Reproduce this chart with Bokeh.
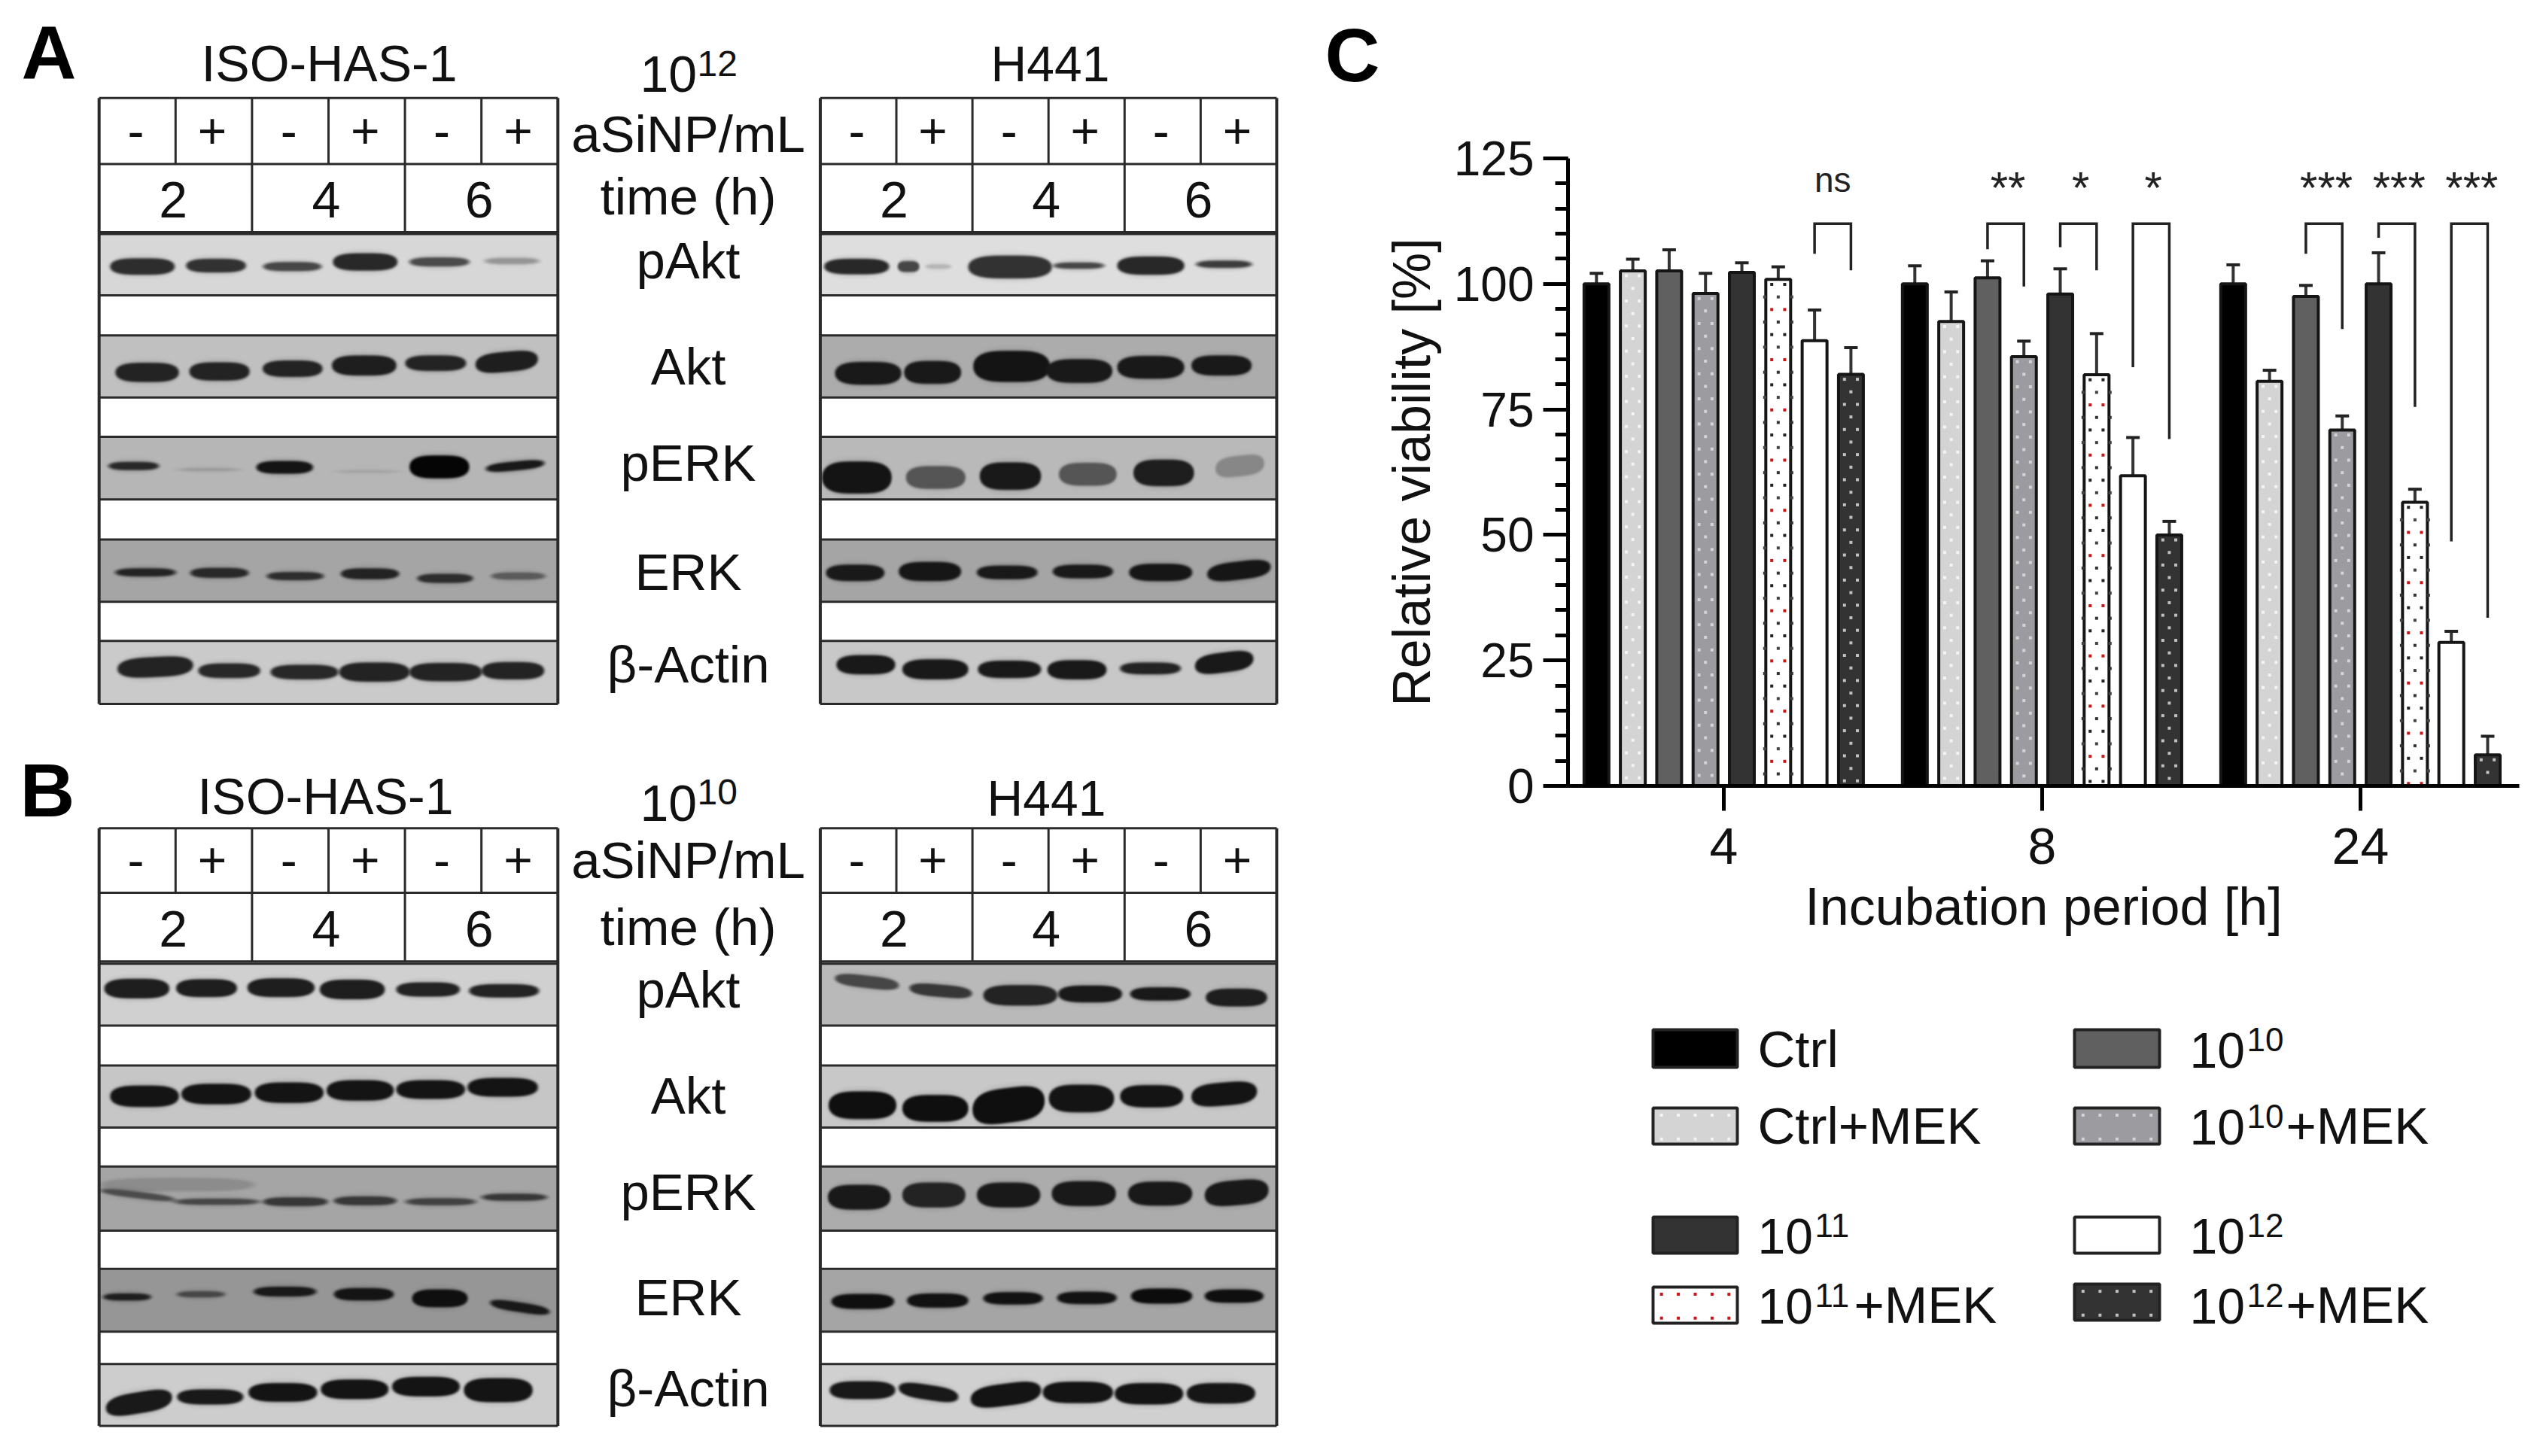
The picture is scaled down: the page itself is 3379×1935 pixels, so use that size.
import numpy as np
from bokeh.core.properties import value
from bokeh.embed import file_html
from bokeh.layouts import column, row
from bokeh.models import FixedTicker, LinearColorMapper, Range1d
from bokeh.plotting import figure
from bokeh.resources import INLINE

FONT = "Liberation Sans"
PAGE_H = 1935
PAGE_W = 3363
FIG_H = 1919
SPLIT = 1833
LEG_TOP = 1290

# ---------- panel C data ----------
GROUPS = ["4", "8", "24"]
SERIES = ["Ctrl", "Ctrl+MEK", "10^10", "10^10+MEK", "10^11", "10^11+MEK", "10^12", "10^12+MEK"]
MEAN_4H = [100, 102.6, 102.6, 98.1, 102.3, 100.9, 88.7, 82]
TOP_4H = [102.1, 104.9, 106.8, 102.1, 104.2, 103.4, 94.8, 87.3]
MEAN_8H = [100, 92.5, 101.2, 85.5, 98, 81.9, 61.8, 50]
TOP_8H = [103.6, 98.4, 104.6, 88.6, 103, 90.1, 69.4, 52.7]
MEAN_24H = [100, 80.6, 97.5, 70.9, 100, 56.5, 28.6, 6.2]
TOP_24H = [103.8, 82.8, 99.7, 73.7, 106.2, 59.1, 30.8, 9.9]
FILLS = ["#000000", "#d4d4d4", "#606060", "#9c9ca0", "#333333", "#ffffff", "#ffffff", "#333333"]
DOTS = [None, "#f4f4f4", None, "#d4d4d8", None, "mix", None, "#c0c0c0"]
# group, left bar, right bar, left foot, right foot, label
BRACKETS = [
    (0, 6, 7, 106, 102.7, "ns"),
    (1, 2, 3, 106.9, 99.5, "**"),
    (1, 4, 5, 107.3, 102.7, "*"),
    (1, 6, 7, 83.4, 69.1, "*"),
    (2, 2, 3, 106, 91, "***"),
    (2, 4, 5, 109.2, 75.5, "***"),
    (2, 6, 7, 48.7, 33.5, "***"),
]
BRACKET_TOP = 112
LEGEND_ROWS = [
    ("Ctrl", "", ""), ("Ctrl+MEK", "", ""), ("10", "11", ""), ("10", "11", "+MEK"),
    ("10", "10", ""), ("10", "10", "+MEK"), ("10", "12", ""), ("10", "12", "+MEK"),
]
LEGEND_SERIES = [0, 1, 4, 5, 2, 3, 6, 7]

# ---------- blot data: (x start, x end, y centre, thickness, darkest grey, tilt) ----------
A_ISO_BANDS = [
    [(208,330,577,36,45,0),(352,465,575,30,50,0),(498,608,577,20,70,0),(630,752,567,38,40,0),(775,888,567,20,75,0),(918,1020,565,14,150,0)],
    [(218,338,808,42,35,0),(358,472,806,40,35,0),(497,610,800,36,35,0),(628,750,793,44,30,0),(767,882,788,34,35,0),(900,1018,785,44,30,-6)],
    [(205,300,1010,18,40,0),(340,450,1018,6,150,0),(485,592,1013,28,20,0),(640,750,1022,5,160,0),(775,888,1012,50,5,0),(920,1030,1010,20,25,-6)],
    [(218,332,1242,18,35,0),(360,470,1243,22,40,0),(505,612,1250,18,45,0),(645,755,1245,24,35,0),(790,895,1255,20,45,0),(930,1032,1250,16,90,0)],
    [(222,365,1447,44,35,-4),(375,492,1455,32,40,0),(512,640,1458,32,40,0),(642,775,1458,42,35,0),(775,912,1458,40,35,0),(912,1030,1455,38,35,0)],
]
A_H441_BANDS = [
    [(198,378,577,34,40,0),(402,462,577,24,70,0),(480,550,577,10,180,0),(598,830,578,50,50,0),(835,975,575,14,70,0),(1012,1198,575,40,40,0),(1232,1385,572,16,60,0)],
    [(228,412,810,50,25,0),(420,578,808,50,25,0),(612,825,795,68,20,0),(815,998,805,52,25,0),(1012,1198,797,50,25,0),(1218,1385,793,44,25,0)],
    [(192,385,1035,70,20,0),(425,590,1035,50,85,0),(630,800,1032,60,25,0),(850,1010,1028,50,85,0),(1057,1225,1025,58,30,0),(1285,1420,1010,45,135,-6)],
    [(203,365,1243,36,25,0),(405,578,1240,42,22,0),(622,790,1242,30,25,0),(833,1000,1240,30,25,0),(1045,1220,1242,38,22,0),(1262,1438,1238,40,22,-8)],
    [(232,395,1442,42,25,0),(415,598,1452,44,25,0),(625,800,1452,38,25,0),(818,982,1453,42,25,0),(1020,1188,1450,26,35,0),(1228,1390,1437,44,25,-8)],
]
B_ISO_BANDS = [
    [(197,320,525,44,30,0),(333,448,524,40,30,0),(468,595,523,42,30,0),(605,728,527,44,30,0),(750,870,527,32,35,0),(888,1020,530,30,35,0)],
    [(208,338,765,48,20,0),(343,475,760,46,20,0),(482,612,757,46,20,0),(618,745,752,46,20,0),(750,880,750,42,20,0),(885,1018,745,42,20,0)],
    [(190,480,962,30,140,0),(190,330,985,15,75,10),(330,490,1000,14,70,0),(498,620,1000,20,55,0),(632,750,998,20,55,0),(768,900,1000,16,65,0),(912,1035,990,16,55,0)],
    [(195,285,1212,16,30,0),(335,425,1206,14,70,0),(480,598,1200,22,25,0),(632,745,1206,28,20,0),(780,885,1215,40,15,0),(928,1040,1235,22,25,10)],
    [(200,325,1448,48,25,-12),(335,460,1435,34,25,0),(470,600,1425,42,20,0),(607,735,1418,44,20,0),(742,870,1412,44,20,0),(878,1008,1420,54,20,0)],
]
B_H441_BANDS = [
    [(228,405,510,28,70,8),(435,608,530,28,55,6),(640,845,540,46,35,0),(848,1025,537,38,25,0),(1048,1215,537,30,25,0),(1258,1428,545,40,30,0)],
    [(210,398,785,62,15,0),(415,598,792,60,15,0),(610,810,785,78,15,-10),(822,1003,770,62,20,0),(1020,1195,765,50,20,0),(1218,1400,760,52,20,-6)],
    [(208,382,990,56,25,0),(415,590,985,56,35,0),(622,798,985,56,25,0),(830,1008,982,56,25,0),(1042,1220,982,54,25,0),(1255,1432,980,56,25,-6)],
    [(218,392,1222,34,15,0),(428,598,1220,32,18,0),(640,805,1215,28,18,0),(845,1010,1214,28,18,0),(1050,1220,1210,34,12,0),(1255,1418,1210,30,15,0)],
    [(213,395,1420,40,25,0),(405,570,1425,34,25,10),(605,800,1430,50,20,-10),(805,1000,1425,48,20,0),(1005,1195,1428,48,20,0),(1205,1395,1427,46,22,0)],
]
A_ISO_BG = [215, 192, 182, 165, 202]
A_H441_BG = [222, 172, 185, 165, 200]
B_ISO_BG = [208, 198, 165, 150, 205]
B_H441_BG = [185, 200, 172, 165, 208]
ROWS_A = [(507,640),(727,862),(947,1083),(1170,1305),(1390,1527)]
ROWS_B = [(470,608),(697,835),(922,1065),(1150,1290),(1362,1500)]
HEAD_A = (212, 355, 503)
HEAD_B = (168, 312, 465)
SIGNS = ["-", "+", "-", "+", "-", "+"]
TIMES = ["2", "4", "6"]
PROTEINS = ["pAkt", "Akt", "pERK", "ERK", "β-Actin"]


def Y(py):
    return PAGE_H - py


# ---------- left figure: blots ----------
left = figure(width=SPLIT, height=FIG_H, x_range=Range1d(0, SPLIT), y_range=Range1d(Y(FIG_H), Y(0)),
              output_backend="svg", toolbar_location=None, min_border=0,
              x_axis_type=None, y_axis_type=None, outline_line_color=None)
left.grid.visible = False
gray = LinearColorMapper(palette=["#%02x%02x%02x" % (i, i, i) for i in range(256)], low=0, high=255)


def put_text(p, x, y, s, size=69, align="center", style="normal", color="#111111"):
    p.text([x], [y + 0.346 * size], text=[s], text_font=value(FONT), text_font_size=f"{size}px",
           text_align=align, text_baseline="middle", text_font_style=style, text_color=color)


def soften(img):
    kernel = np.array([1, 2, 3, 2, 1], dtype=float) / 9
    pad = np.pad(img, 2, mode="edge")
    out = np.apply_along_axis(lambda m: np.convolve(m, kernel, mode="same"), 0, pad)
    out = np.apply_along_axis(lambda m: np.convolve(m, kernel, mode="same"), 1, out)
    return out[2:-2, 2:-2]


def blot_image(bg, bands, cal, top, bottom, l, r):
    ox, sx, oy, sy = cal
    x0, x1 = ox + l / sx, ox + r / sx
    y0, y1 = oy + top / sy, oy + bottom / sy
    w, h = int(round(x1 - x0)), int(round(y1 - y0))
    xx, yy = np.meshgrid(x0 + np.arange(w) + 0.5, y0 + np.arange(h) + 0.5)
    img = np.full((h, w), float(bg))
    for xa, xb, yc, th, g, tilt in bands:
        cx, hw = ox + (xa + xb) / 2 / sx, (xb - xa) / 2 / sx
        cy, hh = oy + yc / sy, max(th / 2 / sy, 1.6)
        dx = (xx - cx) / hw
        dy = (yy - cy - tilt / sy * dx) / hh
        rho = (np.abs(dx) ** 3.5 + np.abs(dy) ** 2.2) ** (1 / 2.2)
        a = np.clip(0.5 + (1 - rho) * hh / 2.6, 0, 1)
        a = a * a * (3 - 2 * a)
        halo = np.clip(1.25 - (np.abs(dx) ** 3 + (np.abs(yy - cy - tilt / sy * dx) / (hh + 5)) ** 2), 0, 1) * 0.14
        img = img * (1 - halo) + g * halo
        img = img * (1 - a) + g * a
    return soften(img)[::-1], x0, y1, w, h


def panel(cal, l, r, head, rows, bands, bgs):
    ox, sx, oy, sy = cal
    x0, x1 = ox + l / sx, ox + r / sx
    lane = (x1 - x0) / 6
    ya, yb, yc = [oy + v / sy for v in head]
    for (top, bottom), bd, bg in zip(rows, bands, bgs):
        img, ix, iy, w, h = blot_image(bg, bd, cal, top, bottom, l, r)
        left.image(image=[img], x=ix, y=Y(iy), dw=w, dh=h, color_mapper=gray)
    hy = [ya, yb, yc]
    for top, bottom in rows:
        hy += [oy + top / sy, oy + bottom / sy]
    xs0 = [x0] * len(hy)
    xs1 = [x1] * len(hy)
    left.segment(xs0, [Y(v) for v in hy], xs1, [Y(v) for v in hy], line_color="#2a2a2a", line_width=3)
    bottom_y = oy + rows[-1][1] / sy
    left.segment([x0, x1], [Y(ya)] * 2, [x0, x1], [Y(bottom_y)] * 2, line_color="#2a2a2a", line_width=4)
    div = [x0 + lane * i for i in range(1, 6)]
    ends = [yc if i % 2 == 0 else yb for i in range(1, 6)]
    left.segment(div, [Y(ya)] * 5, div, [Y(e) for e in ends], line_color="#2a2a2a", line_width=3)
    for i, s in enumerate(SIGNS):
        put_text(left, x0 + lane * (i + 0.5) - 2, Y(ya + 0.76 * (yb - ya)), s, size=66)
    for i, s in enumerate(TIMES):
        put_text(left, x0 + lane * (2 * i + 1) - 3, Y(yb + 0.78 * (yc - yb)), s, size=68)


CAL_A_ISO = (0, 1.4255, 0, 1.633)
CAL_A_H = (1000, 2.0907, 0, 1.633)
CAL_B_ISO = (0, 1.4255, 1000, 1.677)
CAL_B_H = (1000, 2.0907, 1000, 1.677)
panel(CAL_A_ISO, 187, 1056, HEAD_A, ROWS_A, A_ISO_BANDS, A_ISO_BG)
panel(CAL_A_H, 187, 1455, HEAD_A, ROWS_A, A_H441_BANDS, A_H441_BG)
panel(CAL_B_ISO, 187, 1056, HEAD_B, ROWS_B, B_ISO_BANDS, B_ISO_BG)
panel(CAL_B_H, 187, 1455, HEAD_B, ROWS_B, B_H441_BANDS, B_H441_BG)

put_text(left, 437, Y(107), "ISO-HAS-1", size=68)
put_text(left, 432, Y(1081), "ISO-HAS-1", size=68)
put_text(left, 1395, Y(107), "H441", size=66)
put_text(left, 1390, Y(1083), "H441", size=66)
for ys in [(202, 285, 370, 511, 639, 784, 907), (1167, 1256, 1339, 1480, 1608, 1748, 1869)]:
    labels = ["aSiNP/mL", "time (h)"] + PROTEINS
    for yy, s in zip(ys, labels):
        put_text(left, 914, Y(yy), s)
for base10, sup, sup_text in [(122, 101, "12"), (1091, 1069, "10")]:
    put_text(left, 850, Y(base10), "10", size=68, align="left")
    put_text(left, 926, Y(sup), sup_text, size=48, align="left")
# a size of exactly 100px is misread as a font weight by the SVG backend
put_text(left, 28, Y(104), "A", size=101, align="left", style="bold", color="#000000")
put_text(left, 26, Y(1084), "B", size=101, align="left", style="bold", color="#000000")
put_text(left, 1760, Y(107), "C", size=101, align="left", style="bold", color="#000000")

# ---------- right figure: bar chart ----------
Y_TOP, Y_ZERO, AX_L, AX_R = 210, 1044, 2083, 3347
right = figure(width=PAGE_W - SPLIT, height=LEG_TOP, x_range=Range1d(-0.489, 2.499), y_range=Range1d(0, 125),
               output_backend="svg", toolbar_location=None, outline_line_color=None,
               min_border_left=AX_L - SPLIT, min_border_right=PAGE_W - AX_R,
               min_border_top=Y_TOP, min_border_bottom=LEG_TOP - Y_ZERO)
right.grid.visible = False
xa, ya_ = right.xaxis[0], right.yaxis[0]
for ax in (xa, ya_):
    ax.major_label_text_font = FONT
    ax.major_label_text_color = "#111111"
    ax.axis_label_text_font = FONT
    ax.axis_label_text_font_size = "70px"
    ax.axis_label_text_font_style = "normal"
    ax.axis_label_text_color = "#111111"
    ax.axis_line_color = "#000000"
    ax.axis_line_width = 5
    ax.major_tick_line_color = "#000000"
    ax.major_tick_line_width = 5
    ax.major_tick_out = 33
    ax.major_tick_in = 0
xa.major_label_text_font_size = "68px"
ya_.major_label_text_font_size = "64px"
xa.ticker = FixedTicker(ticks=[0, 1, 2])
xa.major_label_overrides = {i: g for i, g in enumerate(GROUPS)}
xa.minor_tick_line_color = None
xa.axis_label = "Incubation period [h]"
xa.major_label_standoff = 23
xa.axis_label_standoff = 15
ya_.ticker = FixedTicker(ticks=[0, 25, 50, 75, 100, 125], minor_ticks=list(range(0, 126, 5)))
ya_.minor_tick_out = 17
ya_.minor_tick_in = 0
ya_.minor_tick_line_width = 5
ya_.minor_tick_line_color = "#000000"
ya_.axis_label = "Relative viability [%]"
ya_.major_label_standoff = 12
ya_.axis_label_standoff = 14

PITCH = 48.3 / 423
BAR_W = 33 / 423
MEANS = [MEAN_4H, MEAN_8H, MEAN_24H]
TOPS = [TOP_4H, TOP_8H, TOP_24H]


def bar_x(group, i):
    return group + (i - 3.5) * PITCH


for g, (means, tops) in enumerate(zip(MEANS, TOPS)):
    xs = [bar_x(g, i) for i in range(8)]
    right.segment(xs, means, xs, tops, line_color="#333333", line_width=4)
    right.segment([x - 9 / 423 for x in xs], tops, [x + 9 / 423 for x in xs], tops, line_color="#222222", line_width=4)
    right.vbar(x=xs, top=means, bottom=0, width=BAR_W, fill_color=FILLS, line_color="#151515", line_width=4)
    for i, (x, m) in enumerate(zip(xs, means)):
        kind = DOTS[i]
        if kind is None:
            continue
        px, py, pc = [], [], []
        for k, v in enumerate(np.arange(m - 1.0, 0.3, -2.5)):
            off = [-8.6, 8.6] if k % 2 == 0 else [0]
            if kind == "mix":
                off = off + ([-18, 18] if k % 2 else [])
                col = ["#222222", "#444444", "#cc1414", "#333333"][k % 4]
            else:
                col = kind
            for o in off:
                px.append(x + o / 423)
                py.append(float(v))
                pc.append(col)
        right.scatter(px, py, marker="square", size=4, color=pc, line_color=None)

for g, a, b, fl, fr, lab in BRACKETS:
    x0, x1 = bar_x(g, a), bar_x(g, b)
    right.line([x0, x0, x1, x1], [fl, BRACKET_TOP, BRACKET_TOP, fr], line_color="#222222", line_width=3.5, line_join="miter")
    if lab == "ns":
        right.text([(x0 + x1) / 2], [120.8], text=[lab], text_font=value(FONT), text_font_size="46px",
                   text_align="center", text_baseline="middle", text_color="#222222")
    else:
        right.text([(x0 + x1) / 2 + 3 / 423], [119.2], text=[lab], text_font=value(FONT), text_font_size="60px",
                   text_align="center", text_baseline="middle", text_color="#222222")

# ---------- legend figure (its frame lines up with the bar chart's frame) ----------
leg = figure(width=PAGE_W - SPLIT, height=FIG_H - LEG_TOP, x_range=Range1d(AX_L, AX_R),
             y_range=Range1d(Y(FIG_H), Y(LEG_TOP)),
             output_backend="svg", toolbar_location=None, min_border=0,
             x_axis_type=None, y_axis_type=None, outline_line_color=None)
leg.grid.visible = False
SW_X = [(2196, 2308), (2756, 2869)]
SW_Y = [(1368, 1418), (1472, 1520), (1617, 1665), (1710, 1758)]
TXT_X = [2335, 2909]
for n, (parts, s) in enumerate(zip(LEGEND_ROWS, LEGEND_SERIES)):
    col, r = n // 4, n % 4
    xa0, xa1 = SW_X[col]
    ya0, ya1 = SW_Y[r]
    base = Y(ya1)
    if n == 7:
        ya0, ya1 = ya0 - 4, ya1 - 4
    leg.quad(left=[xa0], right=[xa1], top=[Y(ya0)], bottom=[Y(ya1)], fill_color=FILLS[s],
             line_color="#222222", line_width=4)
    kind = DOTS[s]
    if kind:
        dx = (xa1 - xa0) / 5
        for frac in (0.2, 0.86):
            yy = Y(ya0 + (ya1 - ya0) * frac)
            col_d = "#cc1414" if kind == "mix" else kind
            leg.scatter([xa0 + dx * (k + 0.5) for k in range(5)], [yy] * 5, marker="square", size=4,
                        color=col_d, line_color=None)
    tx = TXT_X[col]
    put_text(leg, tx, base, parts[0], size=69 if parts[0] != "10" else 66, align="left")
    if parts[1]:
        put_text(leg, tx + 76, base + 22, parts[1], size=44, align="left")
        if parts[2]:
            put_text(leg, tx + 128, base, parts[2], size=69, align="left")

p = row(left, column(right, leg, spacing=0), spacing=0)
open("out.html", "w").write(file_html(p, INLINE))
